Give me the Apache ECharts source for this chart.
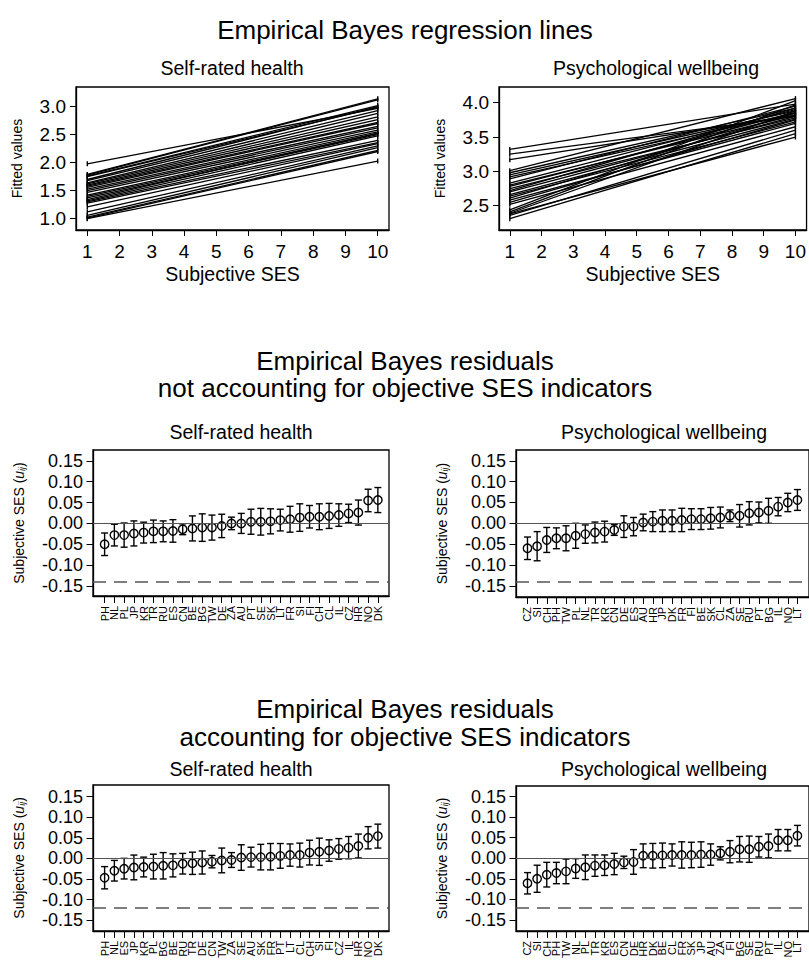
<!DOCTYPE html>
<html><head><meta charset="utf-8">
<script src="https://cdn.jsdelivr.net/npm/echarts@6/dist/echarts.min.js"></script>
<style>html,body{margin:0;padding:0;background:#fff}#c{width:809px;height:961px}</style>
</head><body><div id="c"></div><script>
// ---------- DATA ----------
var sesTicks = [1, 2, 3, 4, 5, 6, 7, 8, 9, 10];
var sesFirst = 1, sesLast = 10;
// Fitted values at subjective SES = 1 and = 10, one line per country
var srhStart = [1.98, 1.79, 1.78, 1.76, 1.75, 1.70, 1.68, 1.64, 1.62, 1.60, 1.58, 1.56, 1.53, 1.50, 1.47, 1.42, 1.40, 1.37, 1.34, 1.32, 1.30, 1.28, 1.21, 1.12, 1.06, 1.03, 1.01, 1.00];
var srhEnd   = [2.97, 3.14, 3.12, 3.02, 2.99, 3.00, 2.93, 2.88, 2.82, 2.77, 2.72, 2.70, 2.65, 2.62, 2.58, 2.55, 2.52, 2.50, 2.53, 2.48, 2.40, 2.36, 2.34, 2.30, 2.27, 2.22, 2.20, 2.03];
var pwbStart = [3.32, 3.25, 3.17, 3.01, 2.98, 2.95, 2.92, 2.89, 2.83, 2.80, 2.78, 2.75, 2.72, 2.70, 2.66, 2.64, 2.61, 2.58, 2.55, 2.52, 2.44, 2.41, 2.39, 2.38, 2.36, 2.31];
var pwbEnd   = [3.98, 3.80, 3.82, 4.06, 3.92, 3.88, 3.85, 3.95, 3.90, 3.82, 3.86, 3.78, 3.92, 3.80, 3.76, 3.72, 3.85, 3.70, 3.75, 3.65, 4.03, 3.97, 3.88, 3.50, 3.60, 3.55];

var srhTicks = [1.0, 1.5, 2.0, 2.5, 3.0];
var pwbTicks = [2.5, 3.0, 3.5, 4.0];
var resTicks = [-0.15, -0.10, -0.05, 0.00, 0.05, 0.10, 0.15];

// Residuals, not accounting for objective SES
var c1 = ['PH','NL','PL','JP','KR','TR','RU','ES','CN','BE','BG','TW','DE','ZA','AU','PT','SE','SK','LT','FR','SI','FI','CH','CL','IL','CZ','HR','NO','DK'];
var e1 = [-0.050,-0.028,-0.028,-0.024,-0.022,-0.019,-0.019,-0.018,-0.014,-0.012,-0.010,-0.010,-0.006,0.000,0.000,0.004,0.004,0.005,0.008,0.010,0.014,0.016,0.016,0.018,0.020,0.024,0.026,0.055,0.056];
var h1 = [0.027,0.026,0.029,0.030,0.025,0.027,0.025,0.027,0.013,0.030,0.033,0.030,0.028,0.015,0.024,0.030,0.032,0.030,0.026,0.031,0.033,0.027,0.031,0.030,0.027,0.022,0.030,0.027,0.030];
var c2 = ['CZ','SI','CH','PH','TW','PL','NL','TR','KR','CN','DE','ES','AU','HR','JP','DK','FR','FI','BE','SK','CL','ZA','SE','RU','PT','BG','IL','NO','LT'];
var e2 = [-0.060,-0.055,-0.040,-0.036,-0.036,-0.030,-0.026,-0.022,-0.020,-0.016,-0.008,-0.008,0.002,0.004,0.006,0.006,0.008,0.010,0.010,0.012,0.014,0.018,0.018,0.024,0.026,0.030,0.040,0.050,0.056];
var h2 = [0.027,0.035,0.030,0.025,0.030,0.030,0.022,0.025,0.025,0.013,0.026,0.022,0.020,0.024,0.026,0.026,0.028,0.025,0.025,0.026,0.025,0.014,0.027,0.028,0.025,0.030,0.022,0.022,0.025];
// Residuals, accounting for objective SES
var c3 = ['PH','NL','ES','JP','KR','PL','BG','BE','RU','TR','DE','CN','TW','ZA','SE','AU','SK','FR','PT','LT','CL','CH','SI','FI','CZ','IL','HR','NO','DK'];
var e3 = [-0.047,-0.030,-0.025,-0.022,-0.021,-0.020,-0.018,-0.017,-0.013,-0.012,-0.010,-0.008,-0.005,-0.004,0.002,0.003,0.003,0.004,0.006,0.008,0.008,0.014,0.016,0.019,0.023,0.026,0.030,0.050,0.054];
var h3 = [0.027,0.025,0.025,0.030,0.024,0.030,0.032,0.028,0.025,0.027,0.028,0.015,0.030,0.018,0.031,0.024,0.031,0.032,0.030,0.027,0.029,0.030,0.033,0.026,0.025,0.027,0.029,0.027,0.029];
var c4 = ['CZ','SI','CH','PH','TW','NL','PL','TR','KR','ES','CN','DE','HR','DK','BE','CL','FR','SK','JP','AU','ZA','FI','BG','SE','RU','PT','IL','NO','LT'];
var e4 = [-0.061,-0.050,-0.040,-0.036,-0.032,-0.025,-0.022,-0.018,-0.017,-0.014,-0.010,-0.009,0.006,0.006,0.007,0.008,0.008,0.008,0.009,0.009,0.012,0.016,0.022,0.022,0.028,0.030,0.044,0.044,0.055];
var h4 = [0.026,0.033,0.030,0.026,0.030,0.024,0.030,0.026,0.025,0.026,0.015,0.030,0.029,0.030,0.030,0.027,0.032,0.031,0.031,0.026,0.016,0.027,0.031,0.032,0.025,0.029,0.026,0.026,0.025];
// dashed reference lines
var cutoffs = [-0.143, -0.137, -0.122, -0.120];

// ---------- CHART ----------
var FONT = '"Liberation Sans", Arial, Helvetica, sans-serif';
var chart = echarts.init(document.getElementById('c'), null, {renderer: 'svg'});

var grids = [
  {left: 76,  top: 87,  width: 313, height: 143},
  {left: 499, top: 87,  width: 314, height: 143},
  {left: 93,  top: 450, width: 296, height: 146},
  {left: 516, top: 450, width: 296, height: 147},
  {left: 93,  top: 785, width: 296, height: 148},
  {left: 516, top: 786, width: 296, height: 147}
];
grids.forEach(function (g) { g.show = true; g.borderColor = '#000'; g.borderWidth = 1.3; g.backgroundColor = 'transparent'; });

function tickCfg(vals, len) {
  return {show: true, length: len, inside: false, customValues: vals, lineStyle: {color: '#000', width: 1}};
}
function baseAxis(extra) {
  var a = {
    type: 'value', splitLine: {show: false},
    axisLine: {show: true, onZero: false, lineStyle: {color: '#000', width: 1.3}}
  };
  for (var k in extra) a[k] = extra[k];
  return a;
}

var xAxes = [], yAxes = [];
// top panels
[[0.65, 10.35], [0.66, 10.35]].forEach(function (r, i) {
  xAxes.push(baseAxis({gridIndex: i, position: 'bottom', min: r[0], max: r[1],
    name: 'Subjective SES', nameLocation: 'middle', nameGap: 34,
    nameTextStyle: {color: '#000', fontSize: 19.5, fontFamily: FONT},
    axisTick: tickCfg(sesTicks, 6),
    axisLabel: {customValues: sesTicks, showMinLabel: true, showMaxLabel: true, fontSize: 19, margin: 12, color: '#000', fontFamily: FONT}
  }));
});
var topY = [[0.798, 3.352, srhTicks], [2.146, 4.229, pwbTicks]];
topY.forEach(function (r, i) {
  yAxes.push(baseAxis({gridIndex: i, min: r[0], max: r[1],
    name: 'Fitted values', nameLocation: 'middle', nameGap: 52,
    nameTextStyle: {color: '#000', fontSize: 14, fontFamily: FONT},
    axisTick: tickCfg(r[2], 6),
    axisLabel: {customValues: r[2], showMinLabel: true, showMaxLabel: true, fontSize: 19, margin: 10, color: '#000', fontFamily: FONT,
      formatter: function (v) { return Number(v).toFixed(1); }}
  }));
});
// residual panels
var resPanels = [
  {c: c1, e: e1, h: h1, cut: cutoffs[0], ymin: -0.174, ymax: 0.176, xmin: -1.19, xmax: 29.14},
  {c: c2, e: e2, h: h2, cut: cutoffs[1], ymin: -0.177, ymax: 0.176, xmin: -1.19, xmax: 29.2},
  {c: c3, e: e3, h: h3, cut: cutoffs[2], ymin: -0.176, ymax: 0.178, xmin: -1.19, xmax: 29.14},
  {c: c4, e: e4, h: h4, cut: cutoffs[3], ymin: -0.177, ymax: 0.176, xmin: -1.19, xmax: 29.2}
];
var idxTicks = [], evenTicks = [], oddTicks = [];
for (var t = 0; t < 29; t++) { idxTicks.push(t); (t % 2 ? oddTicks : evenTicks).push(t); }

var resXAxisIndex = [];
resPanels.forEach(function (p, j) {
  var gi = j + 2;
  var names = p.c;
  var fmt = function (v) { return names[Math.round(v)] || ''; };
  resXAxisIndex.push(xAxes.length);
  // main axis: all ticks, even-position labels
  xAxes.push(baseAxis({gridIndex: gi, position: 'bottom', offset: 0, min: p.xmin, max: p.xmax,
    axisTick: tickCfg(idxTicks, 7),
    axisLabel: {customValues: evenTicks, showMinLabel: true, showMaxLabel: true, hideOverlap: false,
      rotate: 90, fontSize: 11, margin: 10, color: '#000', fontFamily: FONT, formatter: fmt}
  }));
  // companion axis: odd-position labels only
  xAxes.push({type: 'value', gridIndex: gi, position: 'bottom', offset: 0, min: p.xmin, max: p.xmax,
    splitLine: {show: false}, axisLine: {show: false, onZero: false}, axisTick: {show: false},
    axisLabel: {customValues: oddTicks, showMinLabel: true, showMaxLabel: true, hideOverlap: false,
      rotate: 90, fontSize: 11, margin: 10, color: '#000', fontFamily: FONT, formatter: fmt}
  });
  yAxes.push(baseAxis({gridIndex: gi, min: p.ymin, max: p.ymax,
    name: 'Subjective SES ({u|u}{s|ij})', nameLocation: 'middle', nameGap: 67,
    nameTextStyle: {color: '#000', fontSize: 14, fontFamily: FONT,
      rich: {u: {fontStyle: 'italic', fontSize: 14, fontFamily: FONT, color: '#000'},
             s: {fontStyle: 'italic', fontSize: 9, fontFamily: FONT, color: '#000', padding: [6, 0, 0, 0]}}},
    axisTick: tickCfg(resTicks, 6.5),
    axisLabel: {customValues: resTicks, showMinLabel: true, showMaxLabel: true, fontSize: 18, margin: 10, color: '#000', fontFamily: FONT,
      formatter: function (v) { return Number(v).toFixed(2); }}
  }));
});

var series = [];
function addLines(starts, ends, gi) {
  for (var i = 0; i < starts.length; i++) {
    series.push({type: 'line', xAxisIndex: gi, yAxisIndex: gi, silent: true, animation: false,
      data: [[sesFirst, starts[i]], [sesLast, ends[i]]],
      symbol: 'rect', symbolSize: [1.4, 5], itemStyle: {color: '#000'},
      lineStyle: {color: '#000', width: 1.3}});
  }
}
addLines(srhStart, srhEnd, 0);
addLines(pwbStart, pwbEnd, 1);

resPanels.forEach(function (p, j) {
  var gi = j + 2;
  var data = p.e.map(function (v, i) { return [i, v, v - p.h[i], v + p.h[i]]; });
  series.push({
    type: 'custom', xAxisIndex: resXAxisIndex[j], yAxisIndex: gi, silent: true, animation: false,
    data: data,
    renderItem: function (params, api) {
      var x = api.value(0);
      var pe = api.coord([x, api.value(1)]);
      var pl = api.coord([x, api.value(2)]);
      var ph = api.coord([x, api.value(3)]);
      var cap = 3.5, st = {stroke: '#000', lineWidth: 1.4, fill: null};
      return {type: 'group', children: [
        {type: 'line', shape: {x1: pl[0], y1: pl[1], x2: ph[0], y2: ph[1]}, style: st},
        {type: 'line', shape: {x1: pl[0] - cap, y1: pl[1], x2: pl[0] + cap, y2: pl[1]}, style: st},
        {type: 'line', shape: {x1: ph[0] - cap, y1: ph[1], x2: ph[0] + cap, y2: ph[1]}, style: st},
        {type: 'circle', shape: {cx: pe[0], cy: pe[1], r: 4.2}, style: {stroke: '#000', lineWidth: 1.4, fill: 'rgba(0,0,0,0)'}}
      ]};
    },
    markLine: {silent: true, symbol: 'none', animation: false, label: {show: false},
      data: [
        {yAxis: 0, lineStyle: {color: '#555', width: 1, type: 'solid'}},
        {yAxis: p.cut, lineStyle: {color: '#555', width: 1.5, type: [13, 8]}}
      ]}
  });
});

function txt(s, x, y, size, lh) {
  return {type: 'text', x: x, y: y, silent: true,
    style: {text: s, fontSize: size, lineHeight: lh || size, fontFamily: FONT, fill: '#000', align: 'center', verticalAlign: 'middle'}};
}
var graphic = [
  txt('Empirical Bayes regression lines', 405, 30, 26),
  txt('Self-rated health', 232, 68, 19.5),
  txt('Psychological wellbeing', 656, 68, 19.5),
  txt('Empirical Bayes residuals\nnot accounting for objective SES indicators', 405, 374.5, 26, 27.5),
  txt('Self-rated health', 241, 432, 19.5),
  txt('Psychological wellbeing', 664, 432, 19.5),
  txt('Empirical Bayes residuals\naccounting for objective SES indicators', 405, 723, 26, 27.5),
  txt('Self-rated health', 241, 769, 19.5),
  txt('Psychological wellbeing', 664, 769, 19.5)
];

chart.setOption({
  animation: false,
  backgroundColor: '#fff',
  grid: grids,
  xAxis: xAxes,
  yAxis: yAxes,
  series: series,
  graphic: graphic
});
</script></body></html>
